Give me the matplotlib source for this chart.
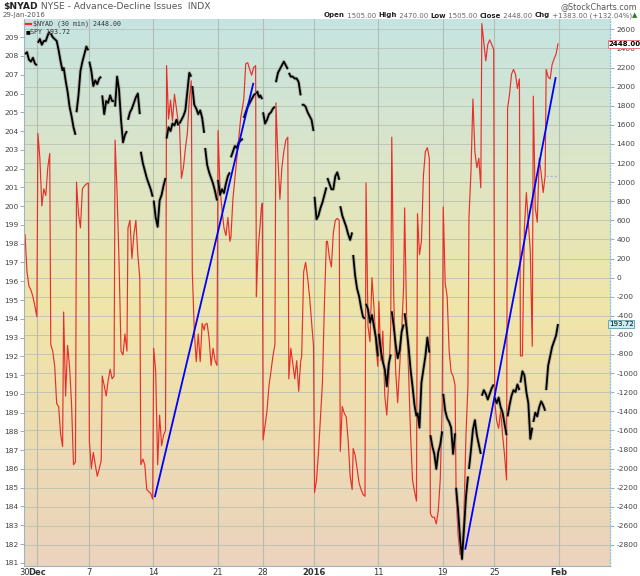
import matplotlib
matplotlib.use("Agg")
import matplotlib.pyplot as plt
import numpy as np
from matplotlib.colors import LinearSegmentedColormap

# ---------------- data ----------------
trading_days = ["Nov 30", "Dec 1", "Dec 2", "Dec 3", "Dec 4", "Dec 7", "Dec 8", "Dec 9",
                "Dec 10", "Dec 11", "Dec 14", "Dec 15", "Dec 16", "Dec 17", "Dec 18",
                "Dec 21", "Dec 22", "Dec 23", "Dec 24", "Dec 28", "Dec 29", "Dec 30",
                "Dec 31", "Jan 4", "Jan 5", "Jan 6", "Jan 7", "Jan 8", "Jan 11", "Jan 12",
                "Jan 13", "Jan 14", "Jan 15", "Jan 19", "Jan 20", "Jan 21", "Jan 22",
                "Jan 25", "Jan 26", "Jan 27", "Jan 28", "Jan 29"]
half_days = ["Dec 24"]

# $NYAD intraday (30 min) readings, 7 per session
nyad_30min = [
    [450, 60, -90, -130, -200, -300, -410],
    [1510, 1250, 750, 930, 860, 1150, 1300],
    [-700, -770, -930, -1320, -1350, -1640, -1770],
    [-360, -1240, -710, -930, -1320, -1960, -1930],
    [1000, 670, 520, 930, 960, 980, 990],
    [-1710, -2000, -1830, -1960, -2080, -2000, -1920],
    [-1030, -1130, -1240, -1080, -960, -1060, -1030],
    [1440, 890, 160, -770, -810, -590, -770],
    [520, 600, 200, 450, 600, 240, -10],
    [-1960, -1900, -1960, -2220, -2240, -2260, -2320],
    [-740, -980, -1960, -1440, -1760, -1650, -1600],
    [2220, 1660, 1860, 1640, 1920, 1770, 1610],
    [1610, 1040, 1150, 1350, 1510, 1870, 2060],
    [60, -560, -880, -590, -880, -480, -550],
    [-490, -480, -640, -920, -740, -870, -920],
    [1540, 940, 710, 520, 440, 630, 380],
    [420, 820, 1030, 1250, 1470, 1680, 1800],
    [1870, 2240, 2250, 2180, 2120, 2200, 2220],
    [-200, 110, 320, 450, 580, 730, 780],
    [-1700, -1550, -1390, -1130, -980, -820, -700],
    [1830, 1250, 820, 1150, 1320, 1440, 1470],
    [-1060, -740, -900, -1060, -870, -1190, -880],
    [-820, 60, 160, 0, -200, -460, -720],
    [-2250, -2120, -1830, -1460, -1100, -270, 380],
    [380, 210, 110, 470, 600, 620, 600],
    [-1820, -1350, -1420, -1460, -1710, -2080, -2220],
    [-1790, -1860, -2000, -2150, -2220, -2270, -2290],
    [990, -510, -670, 0, -300, -720, -930],
    [-250, -870, -560, -1240, -1440, -1080, -510],
    [1470, -200, -990, -1310, -930, -560, -100],
    [730, -410, -990, -1640, -2120, -2240, -2340],
    [670, 240, 380, 1070, 1320, 1360, 1250],
    [-2470, -2510, -2510, -2580, -2440, -2120, -1340],
    [740, -60, -200, -770, -990, -1030, -1130],
    [-2270, -2690, -2900, -2880, -2480, -1650, -1130],
    [630, 1100, 1870, 1320, 1150, 1250, 940],
    [2660, 2470, 2270, 2440, 2490, 2440, 2390],
    [-1290, -1500, -1580, -1390, -1650, -1860, -2120],
    [1770, 1920, 2130, 2180, 2130, 1980, 2080],
    [-820, -820, 520, 890, 580, 270, -720],
    [1900, 730, 580, 1250, 1090, 890, 1065],
    [2180, 2100, 2080, 2230, 2290, 2340, 2448],
]

# SPY intraday readings, 7 per session
spy_30min = [
    [208.1, 208.2, 207.8, 207.7, 207.9, 207.6, 207.5],
    [208.7, 208.9, 208.6, 208.8, 208.8, 209.1, 209.3],
    [209.2, 209.0, 208.9, 208.8, 208.3, 207.7, 207.2],
    [207.4, 206.7, 206.1, 205.3, 204.8, 204.2, 203.8],
    [205.0, 205.9, 207.2, 207.7, 208.1, 208.5, 208.3],
    [207.7, 207.2, 206.4, 206.7, 206.5, 206.8, 206.9],
    [205.9, 204.9, 205.6, 205.5, 205.9, 205.6, 205.6],
    [205.3, 206.9, 206.2, 204.6, 203.4, 203.8, 204.0],
    [204.6, 205.0, 205.2, 205.5, 205.8, 206.0, 204.9],
    [202.9, 202.3, 201.9, 201.5, 201.2, 200.9, 200.5],
    [200.3, 199.4, 198.9, 200.3, 200.6, 201.1, 201.5],
    [203.6, 204.2, 204.0, 204.4, 204.3, 204.6, 204.3],
    [204.4, 204.6, 204.8, 205.1, 206.1, 207.1, 206.9],
    [206.4, 205.4, 205.2, 204.9, 205.1, 204.7, 203.9],
    [203.1, 202.2, 201.8, 201.5, 201.2, 200.8, 200.3],
    [201.4, 200.6, 200.9, 200.7, 201.2, 201.6, 201.8],
    [202.6, 202.9, 203.2, 203.1, 203.4, 203.5, 203.6],
    [204.7, 205.0, 205.3, 205.5, 205.7, 205.9, 206.0],
    [206.0, 206.1, 205.9, 205.8, 205.9, 205.8, 205.7],
    [205.0, 204.4, 204.6, 204.9, 205.0, 205.2, 205.3],
    [206.6, 207.1, 207.3, 207.5, 207.7, 207.5, 207.3],
    [207.1, 206.9, 206.9, 206.8, 206.8, 206.6, 205.9],
    [205.4, 205.4, 205.3, 205.0, 204.8, 204.6, 204.0],
    [200.5, 199.3, 199.5, 199.9, 200.2, 200.6, 201.0],
    [201.5, 201.2, 200.9, 200.9, 201.6, 201.8, 201.4],
    [200.0, 199.5, 199.2, 198.9, 198.5, 198.2, 198.6],
    [197.4, 196.3, 195.6, 195.2, 194.6, 194.1, 194.0],
    [194.8, 194.5, 193.8, 194.2, 193.6, 193.0, 192.0],
    [193.2, 192.3, 191.7, 191.3, 190.4, 191.6, 192.1],
    [194.4, 193.6, 192.6, 191.9, 192.3, 193.3, 193.7],
    [194.3, 193.5, 192.5, 191.3, 190.4, 189.4, 188.8],
    [189.0, 188.2, 190.6, 191.3, 192.0, 193.0, 192.2],
    [187.8, 187.2, 186.8, 186.0, 186.9, 187.3, 188.0],
    [190.0, 189.1, 188.7, 188.5, 188.2, 186.8, 187.9],
    [185.0, 183.8, 182.3, 181.2, 182.8, 184.5, 185.6],
    [186.0, 187.0, 188.1, 188.6, 187.8, 187.3, 186.8],
    [189.9, 190.2, 190.0, 189.7, 190.0, 190.3, 190.5],
    [189.8, 189.5, 189.8, 189.3, 189.0, 188.4, 187.8],
    [188.8, 189.4, 189.9, 190.2, 190.1, 190.5, 190.2],
    [190.6, 191.2, 191.0, 190.1, 189.5, 187.6, 188.2],
    [188.5, 189.0, 188.8, 189.3, 189.6, 189.4, 189.1],
    [190.2, 191.5, 192.0, 192.5, 192.8, 193.1, 193.72],
]

# trend lines drawn on the NYAD panel: (day, fraction of session, value)
trend_lines = [
    (("Dec 14", 0.14, -2290), ("Dec 23", 0.77, 2030)),
    (("Jan 20", 0.76, -2840), ("Jan 29", 0.77, 2090)),
]
prev_close = 1065.0
last_nyad = 2448.00
last_spy = 193.72

tick_days = ["Nov 30", "Dec 1", "Dec 7", "Dec 14", "Dec 21", "Dec 28", "Jan 4",
             "Jan 11", "Jan 19", "Jan 25", "Feb 1"]
tick_labels = ["30", "Dec", "7", "14", "21", "28", "2016", "11", "19", "25", "Feb"]
bold_ticks = ["Dec", "2016", "Feb"]
nyad_ticks = list(range(-2800, 2601, 200))
spy_ticks = list(range(181, 210))

# ---------------- layout helpers ----------------
W, H = 640, 576
starts, lens = [], []
s = 0.0
for d in trading_days:
    starts.append(s)
    L = 0.5 if d in half_days else 1.0
    lens.append(L)
    s += L
pos = dict(zip(trading_days, starts))
length = dict(zip(trading_days, lens))
pos["Feb 1"] = s


def session_x(i, n):
    return starts[i] + lens[i] * (0.04 + 0.92 * np.arange(n) / (n - 1))


fig = plt.figure(figsize=(W / 100, H / 100), dpi=100)
fig.patch.set_facecolor("white")
left_px, right_px, top_px, bot_px = 24, 610, 19, 566
ax = fig.add_axes([left_px / W, 1 - bot_px / H, (right_px - left_px) / W, (bot_px - top_px) / H])
ax2 = ax.twinx()

# background gradient
cmap = LinearSegmentedColormap.from_list(
    "bg", [(0.0, "#c5e4e2"), (0.25, "#dbe5c9"), (0.52, "#f0e6a9"), (0.75, "#eedcb0"), (1.0, "#ebd3be")])
grad = np.linspace(0, 1, 256)[:, None]
ax.imshow(grad, aspect="auto", cmap=cmap, extent=[0, 1, 0, 1], transform=ax.transAxes,
          zorder=0, interpolation="bilinear")

x_lo, x_hi = -0.04, 45.5
ax.set_xlim(x_lo, x_hi)
ax.set_ylim(-3020, 2708)
ax2.set_ylim(180.83, 209.97)

# grid
for t in nyad_ticks:
    ax.axhline(t, color="#b9c2b4", lw=0.6, zorder=0.6)
for d in tick_days[1:]:
    ax.axvline(pos[d], color="#b3bdb0", lw=0.8, zorder=0.6)

# NYAD red line
nx = np.concatenate([session_x(i, len(v)) for i, v in enumerate(nyad_30min)])
ny = np.concatenate([np.array(v, float) for v in nyad_30min])
ax.plot(nx, ny, color="#e8302a", lw=0.85, zorder=2)

# previous close dotted line
ax.plot([pos["Jan 29"], pos["Jan 29"] + 0.85], [prev_close, prev_close],
        color="#a9b6e6", lw=1.0, ls=(0, (1.5, 1.5)), zorder=2)

# SPY black line with grey bar halo
ax2.patch.set_visible(False)
for i, vals in enumerate(spy_30min):
    xs = session_x(i, len(vals))
    ax2.plot(xs, vals, color="#8c8c80", lw=2.6, alpha=0.55, zorder=3, solid_capstyle="butt")
    ax2.plot(xs, vals, color="black", lw=1.3, zorder=4, solid_capstyle="butt")

# trend lines (NYAD coordinates) drawn on top
for (d0, f0, v0), (d1, f1, v1) in trend_lines:
    xa = pos[d0] + f0 * length[d0]
    xb = pos[d1] + f1 * length[d1]
    ax2.plot([xa, xb], [v0, v1], color="#0000ff", lw=1.3, zorder=6, transform=ax.transData)

# axes styling
ax.set_xticks([pos[d] for d in tick_days])
ax.set_xticklabels(tick_labels)
for lab in ax.get_xticklabels():
    if lab.get_text() in bold_ticks:
        lab.set_fontweight("bold")
ax.tick_params(axis="x", length=0, pad=1.5, labelsize=6, colors="#333333")

ax.yaxis.tick_right()
ax.set_yticks(nyad_ticks)
ax.set_yticklabels([str(t) for t in nyad_ticks])
ax.tick_params(axis="y", right=True, left=False, labelright=True, labelleft=False,
               length=3, width=0.6, color="#8aa0b0", pad=1.5, labelsize=5.4, labelcolor="#444444")

ax2.yaxis.tick_left()
ax2.set_yticks(spy_ticks)
ax2.set_yticklabels([str(t) for t in spy_ticks])
ax2.tick_params(axis="y", left=True, right=False, labelleft=True, labelright=False,
                length=3, width=0.6, color="#8aa0b0", pad=1.0, labelsize=5.4, labelcolor="#444444")
ax2.set_xlim(x_lo, x_hi)

for sp in ax2.spines.values():
    sp.set_visible(False)
ax.spines["top"].set_visible(False)
ax.spines["left"].set_color("#9fb4bc")
ax.spines["bottom"].set_color("#9fb4bc")
ax.spines["left"].set_linewidth(0.8)
ax.spines["bottom"].set_linewidth(0.8)
ax.spines["right"].set_color("#8cc0dc")
ax.spines["right"].set_linestyle((0, (1, 1.5)))
ax.spines["right"].set_linewidth(0.9)


# ---------------- texts ----------------
def fx(px):
    return px / W


def fy(py):
    return 1 - py / H


renderer = fig.canvas.get_renderer()


def rich(segments, x_px, y_px, ha="left", size=6.0, family="DejaVu Sans"):
    texts = [fig.text(0, 0, s_, fontsize=size, fontweight=w_, color=c_, va="center",
                      family=family) for s_, w_, c_ in segments]
    widths = [t.get_window_extent(renderer).width for t in texts]
    x0 = x_px if ha == "left" else x_px - sum(widths)
    for t, wd in zip(texts, widths):
        t.set_position((fx(x0), fy(y_px)))
        x0 += wd


rich([("$NYAD", "bold", "#222222"), (" NYSE - Advance-Decline Issues  INDX", "normal", "#555555")],
     3, 6.5, size=6.6)
rich([("29-Jan-2016", "normal", "#555555")], 3, 15.5, size=5.0)
rich([("@StockCharts.com", "normal", "#555555")], 637, 6.5, ha="right", size=5.8)
rich([("Open", "bold", "#222222"), (" 1505.00 ", "normal", "#666666"),
      ("High", "bold", "#222222"), (" 2470.00 ", "normal", "#666666"),
      ("Low", "bold", "#222222"), (" 1505.00 ", "normal", "#666666"),
      ("Close", "bold", "#222222"), (" 2448.00 ", "normal", "#666666"),
      ("Chg", "bold", "#222222"), (" +1383.00 (+132.04%)", "normal", "#666666"),
      ("\u25b2", "normal", "#2a7a2a")], 637, 15.5, ha="right", size=5.0)

# legend inside the plot
fig.add_artist(plt.Line2D([fx(26), fx(31)], [fy(24), fy(24)], color="#e8302a", lw=1.6))
fig.text(fx(33), fy(24), f"$NYAD (30 min) {last_nyad:.2f}", fontsize=4.8,
         family="DejaVu Sans Mono", color="#333333", va="center")
fig.text(fx(25.5), fy(31.5), "\u25a0", fontsize=3.6, color="black", va="center")
fig.text(fx(30), fy(31.5), f"SPY {last_spy:.2f}", fontsize=4.8, family="DejaVu Sans Mono",
         color="#333333", va="center")

# right-side value tags
ax.text(0.998, last_nyad, f"{last_nyad:.2f}", transform=ax.get_yaxis_transform(),
        fontsize=5.0, fontweight="bold", color="black", va="center", ha="left", zorder=10,
        clip_on=False,
        bbox=dict(boxstyle="square,pad=0.12", fc="white", ec="#e07a7a", lw=0.7))
ax2.text(0.998, last_spy, f"{last_spy:.2f}", transform=ax2.get_yaxis_transform(),
         fontsize=5.0, color="black", va="center", ha="left", zorder=10, clip_on=False,
         bbox=dict(boxstyle="square,pad=0.12", fc="#c8eef2", ec="#6aaab4", lw=0.7))

fig.savefig("out.png", dpi=100)
